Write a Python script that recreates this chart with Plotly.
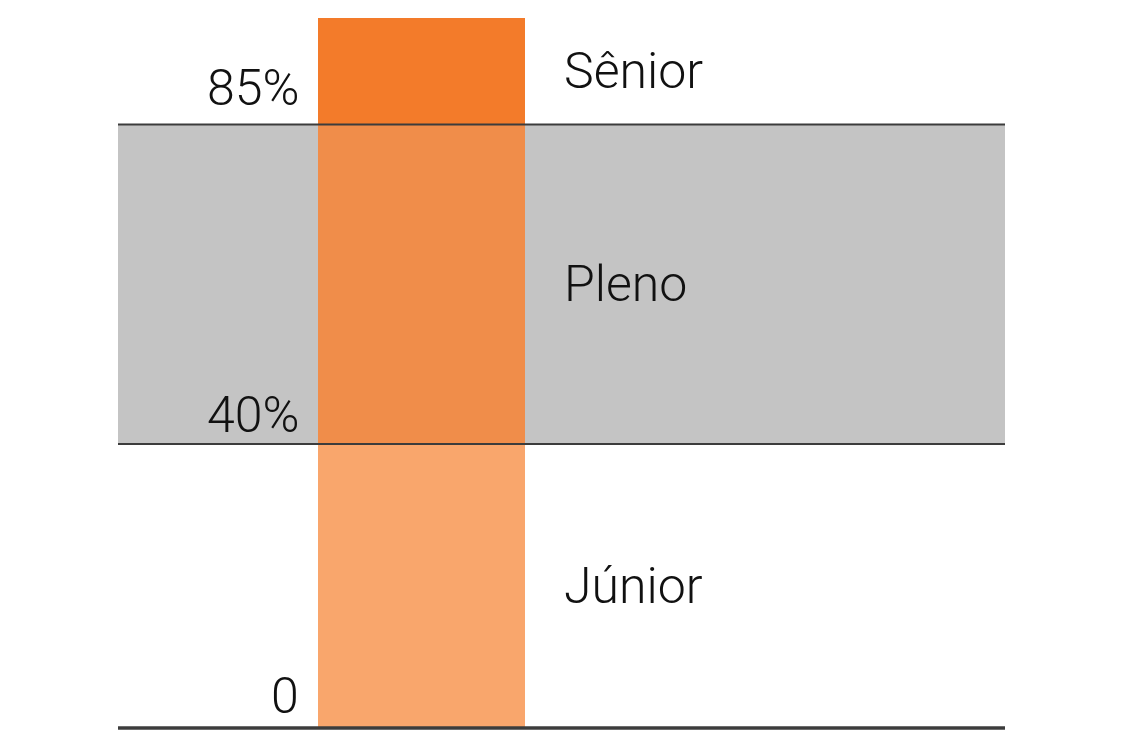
import plotly.graph_objects as go

levels = ["Júnior", "Pleno", "Sênior"]
bounds = [0, 40, 85, 100]
tick_values = [0, 40, 85]
tick_labels = ["0", "40%", "85%"]
bar_colors = ["#F9A66C", "#F08D4A", "#F37B2A"]

# page has an 8px body margin; work in figure coords = reference px - 8
OFF = 8
W, H = 1127 - 2 * OFF, 749 - 2 * OFF
fig = go.Figure()

for i, name in enumerate(levels):
    fig.add_trace(go.Bar(
        x=[0], y=[bounds[i + 1] - bounds[i]], base=[bounds[i]],
        name=name, marker=dict(color=bar_colors[i], line=dict(width=0)),
        width=1, showlegend=False, hoverinfo="skip"))

band_x0, band_x1 = (118 - OFF) / W, (1005 - OFF) / W
fig.add_shape(type="rect", xref="paper", yref="y", x0=band_x0, x1=band_x1,
              y0=bounds[1], y1=bounds[2], fillcolor="#C4C4C4",
              line=dict(width=0), layer="below")
for v in tick_values:
    fig.add_shape(type="line", xref="paper", yref="y", x0=band_x0, x1=band_x1,
                  y0=v, y1=v, layer="above",
                  line=dict(color="#3c3c3c", width=3.5 if v == 0 else 2))

font = dict(family="Roboto", size=50, color="#111111", weight=300)
shifts = {0: 32, 40: 29, 85: 37}
for v, lab in zip(tick_values, tick_labels):
    fig.add_annotation(xref="paper", yref="y", x=(301 - OFF) / W, y=v, text=lab,
                       xanchor="right", yanchor="middle", showarrow=False,
                       font=font, yshift=shifts[v])

for i, name in enumerate(levels):
    fig.add_annotation(xref="paper", yref="y", x=(562 - OFF) / W,
                       y=(bounds[i] + bounds[i + 1]) / 2, text=name,
                       xanchor="left", yanchor="middle", showarrow=False,
                       font=font)

px_per_x = 207.0
cx = 421.5 - OFF
py = 7.1
y0_px = 728 - OFF
y100_px = 18 - OFF
fig.update_layout(
    width=W, height=H, margin=dict(l=0, r=0, t=0, b=0),
    paper_bgcolor="white", plot_bgcolor="white",
    barmode="stack", bargap=0,
    xaxis=dict(range=[-cx / px_per_x, (W - cx) / px_per_x], visible=False,
               fixedrange=True),
    yaxis=dict(range=[-(H - y0_px) / py, 100 + y100_px / py], visible=False,
               fixedrange=True),
)

fig.write_html("out.html", config={"displayModeBar": False})
